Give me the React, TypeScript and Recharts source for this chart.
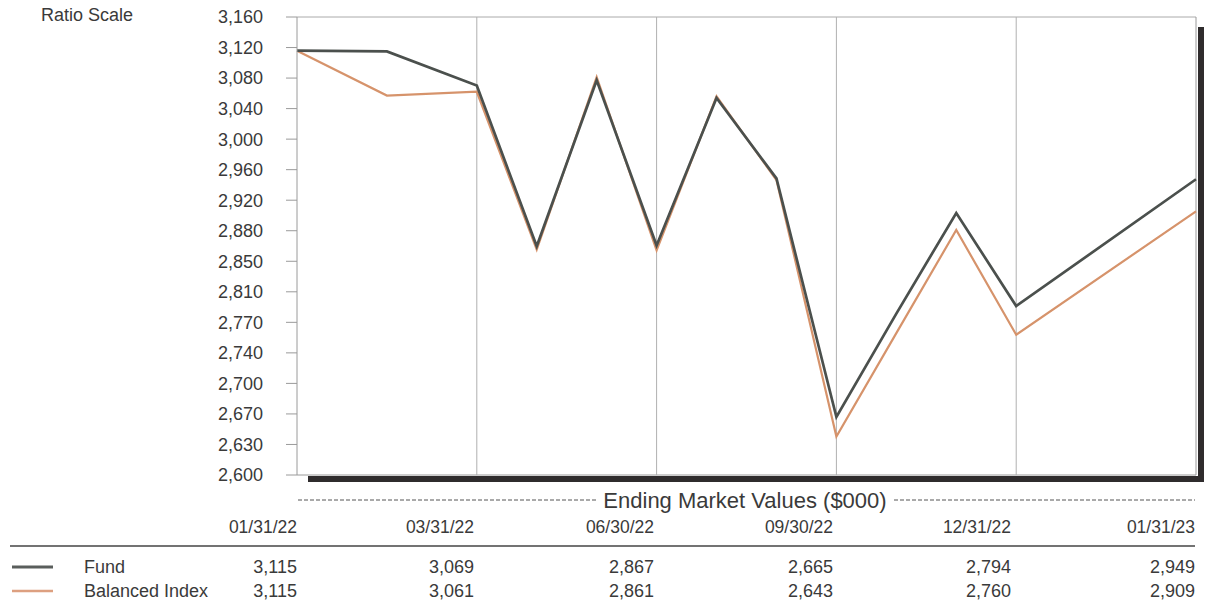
import React from 'react';
import { LineChart, Line, XAxis, YAxis, ReferenceLine } from 'recharts';

// ─── Data ────────────────────────────────────────────────
const DATES = [
  '01/31/22', '02/28/22', '03/31/22', '04/30/22', '05/31/22', '06/30/22', '07/31/22',
  '08/31/22', '09/30/22', '10/31/22', '11/30/22', '12/31/22', '01/31/23',
];
// where each month sits on the period axis (one unit = one column of the table)
const PERIOD_POS = [0, 0.5, 1, 4 / 3, 5 / 3, 2, 7 / 3, 8 / 3, 3, 10 / 3, 11 / 3, 4, 5];
const FUND = [3115, 3114, 3069, 2866, 3076, 2867, 3053, 2950, 2665, 2785, 2907, 2794, 2949];
const BALANCED = [3115, 3056, 3061, 2862, 3080, 2861, 3055, 2948, 2643, 2762, 2886, 2760, 2909];

const Y_TICK_LABELS = [
  2600, 2630, 2670, 2700, 2740, 2770, 2810, 2850, 2880, 2920, 2960, 3000, 3040, 3080, 3120, 3160,
];
const Y_MIN = 2600;
const Y_MAX = 3160;
const QUARTER_MARKS = [1, 2, 3, 4];

const TABLE_DATES = ['01/31/22', '03/31/22', '06/30/22', '09/30/22', '12/31/22', '01/31/23'];

// ─── Styling ─────────────────────────────────────────────
const FUND_COLOR = '#4b504d';
const INDEX_COLOR = '#d6936b';
const TEXT = '#3a3a3a';
const FONT = '"Liberation Sans", Arial, sans-serif';

// ratio scale: ticks evenly spaced in log space, labelled with the rounded values
const yTicks = Y_TICK_LABELS.map(
  (_, i) => Y_MIN * Math.pow(Y_MAX / Y_MIN, i / (Y_TICK_LABELS.length - 1)),
);

const chartData = DATES.map((d, i) => ({
  date: d,
  pos: PERIOD_POS[i],
  fund: FUND[i],
  balanced: BALANCED[i],
}));

const COL_RIGHT = [297, 474, 654, 833, 1011, 1195];

const fmt = (v: number) => v.toLocaleString('en-US');

export default function App() {
  const cols = TABLE_DATES.map((d) => DATES.indexOf(d));

  return (
    <div
      style={{
        position: 'absolute',
        left: 0,
        top: 0,
        width: 1209,
        height: 604,
        background: '#fff',
        fontFamily: FONT,
        color: TEXT,
        overflow: 'hidden',
      }}
    >
      {/* drop shadow behind the plot box */}
      <div style={{ position: 'absolute', left: 308, top: 476, width: 896, height: 6, background: '#2f2c2d' }} />
      <div style={{ position: 'absolute', left: 1198, top: 27, width: 6, height: 455, background: '#2f2c2d' }} />

      <div style={{ position: 'absolute', left: 41, top: 5, fontSize: 18 }}>Ratio Scale</div>

      <div style={{ position: 'absolute', left: 0, top: 0 }}>
        <LineChart
          width={1209}
          height={490}
          data={chartData}
          margin={{ top: 17, right: 13, bottom: 15, left: 237 }}
        >
          <XAxis dataKey="pos" type="number" domain={[0, 5]} hide />
          <YAxis
            width={60}
            scale="log"
            domain={[Y_MIN, Y_MAX]}
            allowDataOverflow
            ticks={yTicks}
            interval={0}
            tickFormatter={(_v: number, i: number) => fmt(Y_TICK_LABELS[i])}
            tick={{ fontSize: 18, fill: TEXT, fontFamily: FONT }}
            tickSize={11}
            tickMargin={23}
            tickLine={{ stroke: '#9a9a9a' }}
            axisLine={{ stroke: '#9a9a9a' }}
          />
          <ReferenceLine y={Y_MAX} stroke="#aaaaaa" />
          <ReferenceLine y={Y_MIN} stroke="#9a9a9a" />
          <ReferenceLine x={5} stroke="#9a9a9a" />
          {QUARTER_MARKS.map((q) => (
            <ReferenceLine key={q} x={q} stroke="#b0b0b0" />
          ))}
          <Line
            type="linear"
            dataKey="balanced"
            stroke={INDEX_COLOR}
            strokeWidth={2.2}
            dot={false}
            isAnimationActive={false}
          />
          <Line
            type="linear"
            dataKey="fund"
            stroke={FUND_COLOR}
            strokeWidth={2.7}
            dot={false}
            isAnimationActive={false}
          />
        </LineChart>
      </div>

      {/* Ending market values table */}
      <svg
        width={1209}
        height={604}
        style={{ position: 'absolute', left: 0, top: 0, pointerEvents: 'none' }}
        fontFamily={FONT}
      >
        <line x1={298} x2={596} y1={500} y2={500} stroke="#555" strokeDasharray="4 2" />
        <line x1={894} x2={1195} y1={500} y2={500} stroke="#555" strokeDasharray="4 2" />
        <text x={745} y={508} textAnchor="middle" fontSize={22} fill={TEXT}>
          Ending Market Values ($000)
        </text>

        {TABLE_DATES.map((d, i) => (
          <text key={d} x={COL_RIGHT[i]} y={533} textAnchor="end" fontSize={17.5} fill={TEXT}>
            {d}
          </text>
        ))}

        <line x1={10} x2={1195} y1={546} y2={546} stroke="#444" strokeWidth={1.5} />

        <line x1={12} x2={53} y1={567} y2={567} stroke="#5a5e5c" strokeWidth={3} />
        <text x={84} y={573} fontSize={18} fill={TEXT}>Fund</text>
        <line x1={12} x2={53} y1={591} y2={591} stroke="#dda080" strokeWidth={2.5} />
        <text x={84} y={597} fontSize={18} fill={TEXT}>Balanced Index</text>

        {cols.map((idx, i) => (
          <React.Fragment key={idx}>
            <text x={COL_RIGHT[i]} y={573} textAnchor="end" fontSize={18} fill={TEXT}>
              {fmt(FUND[idx])}
            </text>
            <text x={COL_RIGHT[i]} y={597} textAnchor="end" fontSize={18} fill={TEXT}>
              {fmt(BALANCED[idx])}
            </text>
          </React.Fragment>
        ))}
      </svg>
    </div>
  );
}
